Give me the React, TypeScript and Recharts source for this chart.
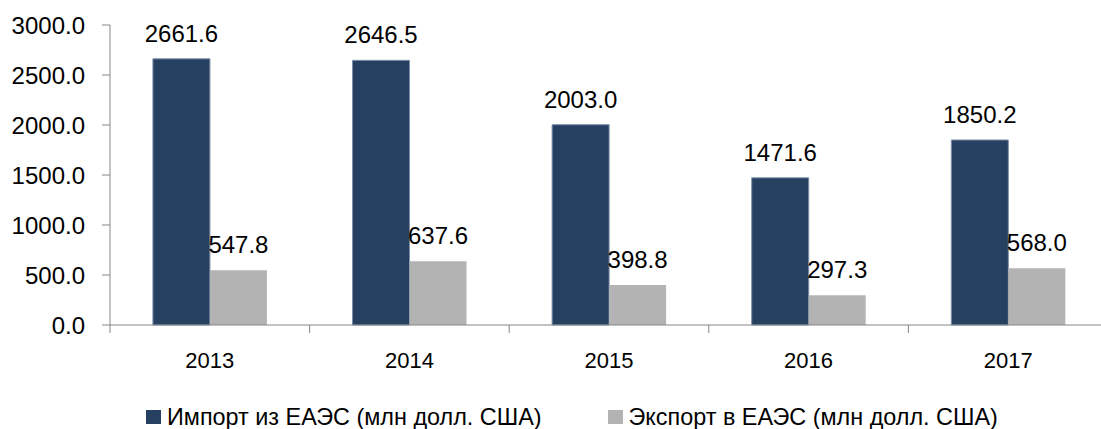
import { Bar, BarChart, LabelList, Legend, XAxis, YAxis } from 'recharts';

const years = ['2013', '2014', '2015', '2016', '2017'];
const importValues = [2661.6, 2646.5, 2003.0, 1471.6, 1850.2];
const exportValues = [547.8, 637.6, 398.8, 297.3, 568.0];
const yTicks = [0, 500, 1000, 1500, 2000, 2500, 3000];

const IMPORT_NAME = 'Импорт из ЕАЭС (млн долл. США)';
const EXPORT_NAME = 'Экспорт в ЕАЭС (млн долл. США)';

const data = years.map((year, i) => ({
  year,
  import: importValues[i],
  export: exportValues[i],
}));

const CHART_W = 1110;
const CHART_H = 429;
const MARGIN = { top: 25, right: 2, left: 0, bottom: 0 };
const YAXIS_W = 110;
const BAND = (CHART_W - MARGIN.left - MARGIN.right - YAXIS_W) / years.length;

const FONT = '"Liberation Sans", Arial, sans-serif';
const AXIS_COLOR = '#868686';
const DARK = '#264061';
const GREY = '#b3b3b3';

const fmt = (v: number) => Number(v).toFixed(1);

function YearTick(props: any) {
  const { x, y, payload } = props;
  const left = x - BAND / 2;
  return (
    <g>
      <line x1={left} y1={y} x2={left} y2={y + 8} stroke={AXIS_COLOR} strokeWidth={1} />
      <text x={x} y={y + 27} dy="0.71em" textAnchor="middle" fontSize={22} fill="#000" fontFamily={FONT}>
        {payload.value}
      </text>
    </g>
  );
}

function LegendContent() {
  const items = [
    { name: IMPORT_NAME, color: DARK },
    { name: EXPORT_NAME, color: GREY },
  ];
  return (
    <div style={{ display: 'flex', alignItems: 'center', height: 30, marginTop: 3, paddingLeft: 146, fontFamily: FONT, fontSize: 23.4 }}>
      {items.map((it, i) => (
        <div key={it.name} style={{ display: 'flex', alignItems: 'center', marginLeft: i === 0 ? 0 : 66 }}>
          <span style={{ width: 15, height: 14, background: it.color, marginRight: 6, display: 'inline-block' }} />
          <span style={{ color: '#000', whiteSpace: 'nowrap' }}>{it.name}</span>
        </div>
      ))}
    </div>
  );
}

export default function App() {
  return (
    <div style={{ position: 'absolute', left: 0, top: 0, width: 1101, height: 429, overflow: 'hidden', background: '#fff' }}>
      <BarChart width={CHART_W} height={CHART_H} data={data} margin={MARGIN} barCategoryGap="21.5%" barGap={0}>
        <XAxis
          dataKey="year"
          height={74}
          tickSize={0}
          tickMargin={0}
          tickLine={false}
          stroke={AXIS_COLOR}
          tick={<YearTick />}
          interval={0}
        />
        <YAxis
          width={YAXIS_W}
          domain={[0, 3000]}
          ticks={yTicks}
          tickFormatter={fmt}
          tickSize={8}
          tickMargin={17}
          stroke={AXIS_COLOR}
          tick={{ fill: '#000', fontSize: 24, fontFamily: FONT }}
          interval={0}
        />
        <Legend
          verticalAlign="bottom"
          height={30}
          wrapperStyle={{ left: 0, width: CHART_W }}
          content={<LegendContent />}
        />
        <Bar dataKey="import" name={IMPORT_NAME} fill={DARK} stroke="#7d8fa8" strokeWidth={1} isAnimationActive={false}>
          <LabelList dataKey="import" position="top" offset={17} formatter={fmt} fill="#000" fontSize={24} fontFamily={FONT} />
        </Bar>
        <Bar dataKey="export" name={EXPORT_NAME} fill={GREY} isAnimationActive={false}>
          <LabelList dataKey="export" position="top" offset={17} formatter={fmt} fill="#000" fontSize={24} fontFamily={FONT} />
        </Bar>
      </BarChart>
    </div>
  );
}
